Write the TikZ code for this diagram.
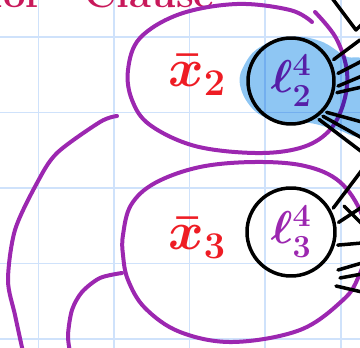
\RequirePackage{fix-cm}
\documentclass[tikz,border=0pt]{standalone}
\usepackage{amsmath}
\definecolor{gridblue}{HTML}{CFE2FB}
\definecolor{inkpurple}{HTML}{9C27B0}
\definecolor{inkred}{HTML}{EE1C24}
\definecolor{inkcrimson}{HTML}{C8185A}
\definecolor{hiblue}{HTML}{8EC6F3}

\begin{document}
\begin{tikzpicture}[x=1pt,y=-1pt,line cap=round,line join=round,
  pen/.style={draw=inkpurple,line width=4pt},
  ink/.style={line width=3.5pt,shorten <=3pt},
  lit/.style={circle,draw,line width=3.5pt,minimum size=86pt,inner sep=0pt,
    text=inkpurple,font=\fontsize{46}{50}\selectfont\boldmath},
  var/.style={text=inkred,font=\fontsize{54}{60}\selectfont\boldmath}]
  \useasboundingbox (0,0) rectangle (360,348);
  \clip (0,0) rectangle (360,348);
  \foreach \k in {0,...,4} {
    \draw[gridblue,line width=1.6pt] ({38.5+75.6*\k},0) -- ({38.5+75.6*\k},348);
    \draw[gridblue,line width=1.6pt] (0,{37+75.5*\k}) -- (360,{37+75.5*\k});
  }
  \node[anchor=base west,text=inkcrimson,font=\fontsize{40}{44}\selectfont\bfseries] (title) at (-14,8) {for\quad Clause};

  % sets of literals
  \draw[pen] plot[smooth,tension=0.6] coordinates {(315,12) (336,38) (347,72) (343,105) (328,132) (300,148) (255,153)
    (195,146) (150,125) (132,100) (128,70) (140,38) (180,14) (237,4) (290,10) (312,22)};
  \draw[pen] plot[smooth cycle,tension=0.6] coordinates {(123,235) (131,205) (155,183) (200,167) (255,162) (305,166)
    (340,182) (362,215) (366,250) (358,278) (343,300) (300,330) (233,342) (180,332) (145,308) (128,280) (123,255)};
  \draw[pen] plot[smooth] coordinates {(117,116) (100,122) (57,153) (37,183) (15,230) (8,280) (15,315) (23,352)};
  \draw[pen] plot[smooth] coordinates {(122,273) (100,278) (82,292) (72,310) (68,335) (70,352)};

  \node[var] (x2) at (197,75) {$\bar{x}_2$};
  \node[var] (x3) at (197,238) {$\bar{x}_3$};

  \node[lit] (lit2) at (291,81) {$\ell^4_2$};
  \node[lit,minimum size=88pt] (lit3) at (291,232) {$\ell^4_3$};

  \foreach \a/\p [count=\i] in {26/{360,40},8/{362,61},-8/{362,76},-16/{362,87},-43/{362,122},-49/{362,138},-55/{362,152}} {
    \coordinate (u\i) at (\p);
    \draw[ink] (lit2.\a) -- (u\i);
  }
  \foreach \a/\p [count=\i] in {28/{362,170},10/{362,207},-17/{362,243}} {
    \coordinate (w\i) at (\p);
    \draw[ink] (lit3.\a) -- (w\i);
  }
  \draw[line width=3.5pt] (332,-2) -- (356,30) -- (362,24);
  \draw[line width=3.5pt] (344,206) -- (362,224);
  \draw[line width=3.5pt] (338,270) -- (362,263);
  \draw[line width=3.5pt] (340,278) -- (362,274);
  \draw[line width=3.5pt] (336,286) -- (362,292);

  % highlight
  \fill[hiblue,blend mode=multiply] plot[smooth cycle,tension=0.7] coordinates {(240,85) (246,62) (262,46) (290,37)
    (320,41) (345,56) (366,66) (366,132) (335,129) (310,123) (280,121) (255,111)};
\end{tikzpicture}
\end{document}
